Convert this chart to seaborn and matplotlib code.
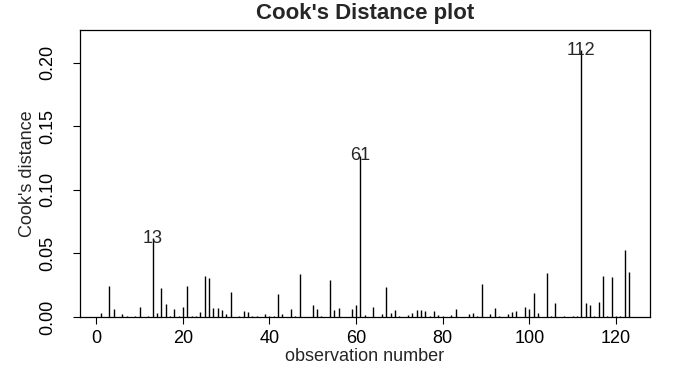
import seaborn as sns
import matplotlib.pyplot as plt
import numpy as np

# Cook's distance per observation
cook = [
    0.003, 0.0003, 0.024, 0.006, 0.0003, 0.002, 0.0005, 0.0002, 0.0005, 0.0076,
    0.0002, 0.0005, 0.062, 0.003, 0.0226, 0.0102, 0.0005, 0.0066, 0.0005, 0.008,
    0.0247, 0.001, 0.0005, 0.004, 0.0325, 0.031, 0.0073, 0.0068, 0.0052, 0.0024,
    0.0194, 0.0002, 0.0005, 0.0045, 0.0037, 0.001, 0.0005, 0.0002, 0.002, 0.0005,
    0.001, 0.018, 0.002, 0.0002, 0.0066, 0.0005, 0.0336, 0.0002, 0.0002, 0.0092,
    0.006, 0.0005, 0.0002, 0.0289, 0.0058, 0.0068, 0.0002, 0.0002, 0.0066, 0.0094,
    0.127, 0.0015, 0.0002, 0.0076, 0.0002, 0.0024, 0.0234, 0.003, 0.0058, 0.0005,
    0.0002, 0.0013, 0.003, 0.0058, 0.0055, 0.0045, 0.001, 0.0045, 0.0016, 0.0005,
    0.0002, 0.0014, 0.0066, 0.0002, 0.0002, 0.002, 0.0034, 0.0005, 0.026, 0.0002,
    0.002, 0.0068, 0.0005, 0.0002, 0.0024, 0.004, 0.0047, 0.0002, 0.0076, 0.006,
    0.0186, 0.003, 0.0002, 0.0344, 0.0005, 0.011, 0.0002, 0.001, 0.0002, 0.0005,
    0.0005, 0.21, 0.0113, 0.0092, 0.0005, 0.0115, 0.032, 0.0005, 0.0312, 0.0005,
    0.0005, 0.0528, 0.0354,
]
obs = np.arange(1, len(cook) + 1)
labelled = [13, 61, 112]
xticks = [0, 20, 40, 60, 80, 100, 120]
yticks = [0.00, 0.05, 0.10, 0.15, 0.20]

sns.set_theme(style="ticks")
plt.rcParams['font.family'] = ['Liberation Sans', 'DejaVu Sans']

fig = plt.figure(figsize=(6.92, 3.76), dpi=100)
ax = fig.add_axes([0.1149, 0.1569, 0.8244, 0.7633])

ax.vlines(obs, 0, cook, color='black', linewidth=1.0)
for i in labelled:
    ax.text(i, cook[i - 1], str(i), ha='center', va='center', fontsize=13)

n = len(cook)
pad = 0.04 * (n - 1)
ax.set_xlim(1 - pad, n + pad)
ax.set_ylim(0, max(cook) * 1.075)
ax.set_xticks(xticks)
ax.set_yticks(yticks)
ax.set_yticklabels([f"{v:.2f}" for v in yticks], rotation=90, va='center')
ax.tick_params(direction='out', length=5, width=0.8, labelsize=13, colors='black')
ax.tick_params(axis='x', pad=4)
ax.tick_params(axis='y', pad=12)
for s in ax.spines.values():
    s.set_color('black')
    s.set_linewidth(0.9)

ax.set_xlabel("observation number", fontsize=13, labelpad=1)
ax.set_ylabel("Cook's distance", fontsize=13, labelpad=2)
ax.set_title("Cook's Distance plot", fontsize=16, fontweight='bold', pad=8)

fig.savefig("out.png", dpi=100)
